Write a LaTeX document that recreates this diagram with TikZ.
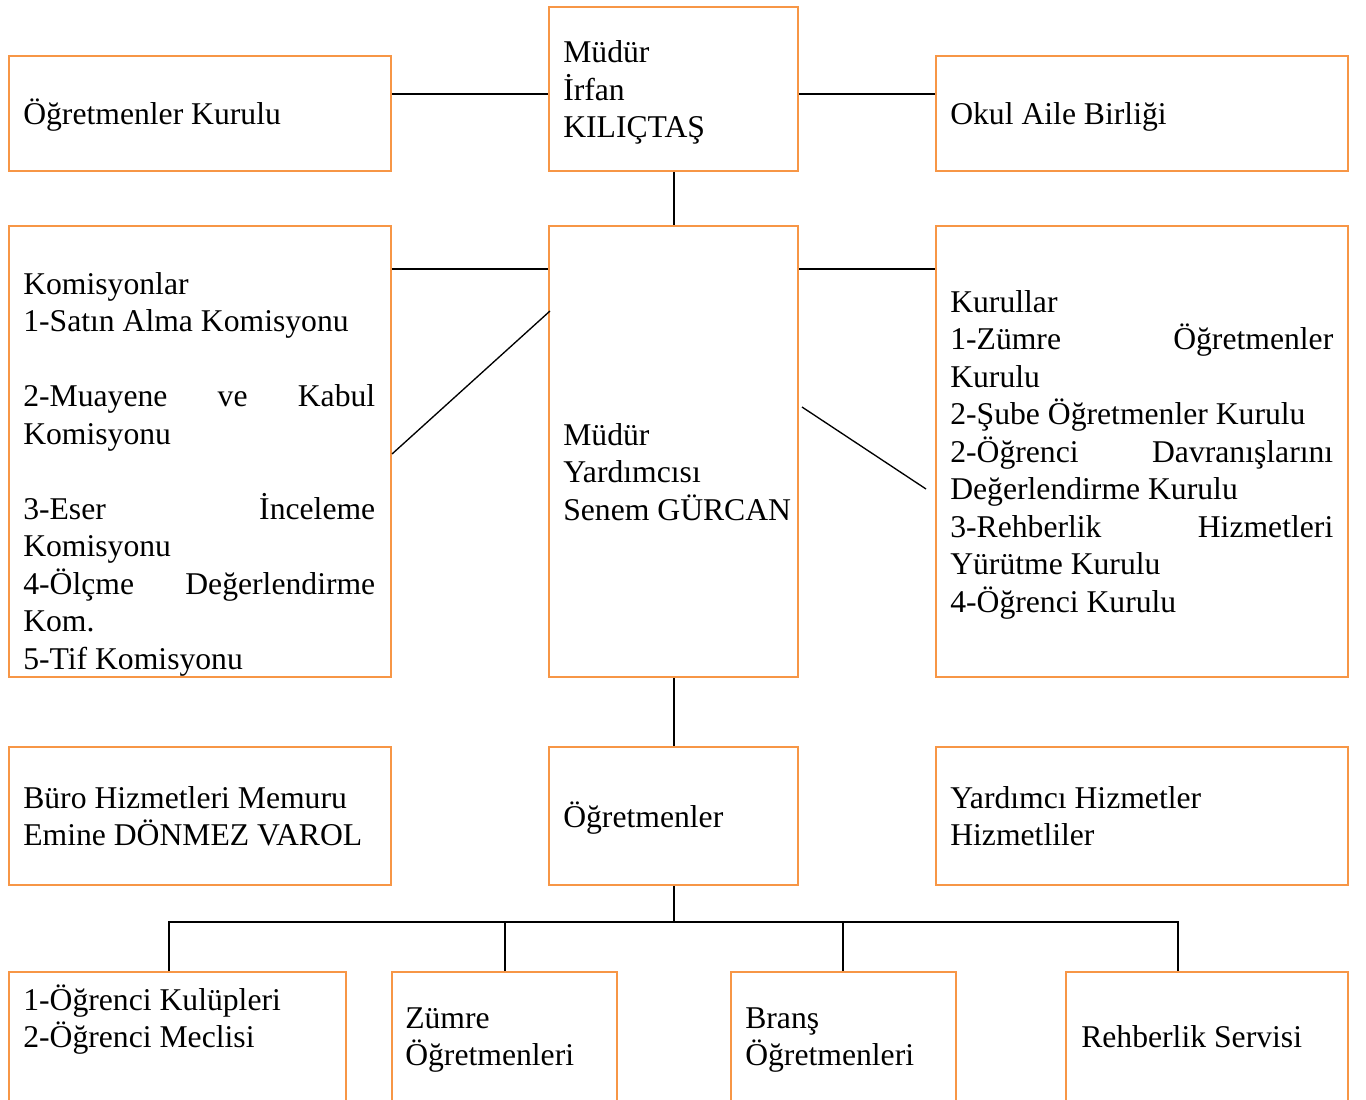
\documentclass[tikz,border=0pt]{standalone}
\usepackage{fontspec}
\setmainfont{Liberation Serif}
\definecolor{turuncu}{RGB}{247,150,70}
\newcommand{\metin}{\fontsize{23.75pt}{28.125pt}\selectfont}
\newcommand{\yasla}[1]{\makebox[\hsize][s]{#1}}

\tikzset{
	kutu/.style 2 args={draw=turuncu,line width=1.5pt,anchor=north west,inner sep=0pt,minimum width=#1*0.75pt,minimum height=#2*0.75pt},
	yazi/.style={anchor=base west,inner sep=0pt,align=flush left,text width=383*0.75pt,font=\metin},
	cizgi/.style={line width=1.5pt},
	ince/.style={line width=1pt}
}

\begin{document}
\begin{tikzpicture}[x=0.75pt,y=-0.75pt]
	\path[use as bounding box,clip] (0,0) rectangle (1366,1099);

	% ust sira
	\node[kutu={382}{115}] (ogk) at (8,55) {};
	\node[kutu={249}{164}] (mudur) at (548,6) {};
	\node[kutu={412}{115}] (oab) at (935,55) {};
	\node[yazi] (ogkYazi) at (23,124) {Öğretmenler Kurulu};
	\node[yazi] (mudurYazi) at (563,63) {Müdür\\İrfan\\KILIÇTAŞ};
	\node[yazi] (oabYazi) at (950,124) {Okul Aile Birliği};

	% orta sira
	\node[kutu={382}{451}] (kom) at (8,225) {};
	\node[kutu={249}{451}] (mudyrd) at (548,225) {};
	\node[kutu={412}{451}] (kurul) at (935,225) {};
	\node[yazi,text width=352*0.75pt] (komYazi) at (23,294) {Komisyonlar\\1-Satın Alma Komisyonu\\ \mbox{}\\
		\yasla{2-Muayene ve Kabul}\\Komisyonu\\ \mbox{}\\
		\yasla{3-Eser İnceleme}\\Komisyonu\\
		\yasla{4-Ölçme Değerlendirme}\\Kom.\\5-Tif Komisyonu};
	\node[yazi] (mudyrdYazi) at (563,445) {Müdür\\Yardımcısı\\Senem GÜRCAN};
	\node[yazi,text width=383*0.75pt] (kurulYazi) at (950,312) {Kurullar\\
		\yasla{1-Zümre Öğretmenler}\\Kurulu\\2-Şube Öğretmenler Kurulu\\
		\yasla{2-Öğrenci Davranışlarını}\\Değerlendirme Kurulu\\
		\yasla{3-Rehberlik Hizmetleri}\\Yürütme Kurulu\\4-Öğrenci Kurulu};

	% alt sira
	\node[kutu={382}{138}] (buro) at (8,746) {};
	\node[kutu={249}{138}] (ogr) at (548,746) {};
	\node[kutu={412}{138}] (yrd) at (935,746) {};
	\node[yazi] (buroYazi) at (23,808) {Büro Hizmetleri Memuru\\Emine DÖNMEZ VAROL};
	\node[yazi] (ogrYazi) at (563,827) {Öğretmenler};
	\node[yazi] (yrdYazi) at (950,808) {Yardımcı Hizmetler\\Hizmetliler};

	% en alt
	\node[kutu={337}{160}] (kulup) at (8,971) {};
	\node[kutu={225}{160}] (zumre) at (391,971) {};
	\node[kutu={225}{160}] (brans) at (730,971) {};
	\node[kutu={282}{160}] (rehber) at (1065,971) {};
	\node[yazi] (kulupYazi) at (23,1010) {1-Öğrenci Kulüpleri\\2-Öğrenci Meclisi};
	\node[yazi] (zumreYazi) at (405,1028) {Zümre\\Öğretmenleri};
	\node[yazi] (bransYazi) at (745,1028) {Branş\\Öğretmenleri};
	\node[yazi] (rehberYazi) at (1081,1047) {Rehberlik Servisi};

	% baglantilar
	\coordinate (solUc) at (550,311);
	\coordinate (sagBas) at (802,407);
	\coordinate (sagUc) at (926,489);
	\draw[cizgi] (ogk.east |- 0,94) -- (mudur.west |- 0,94);
	\draw[cizgi] (mudur.east |- 0,94) -- (oab.west |- 0,94);
	\draw[cizgi] (mudur.south) -- (mudyrd.north);
	\draw[cizgi] (kom.east |- 0,269) -- (mudyrd.west |- 0,269);
	\draw[cizgi] (mudyrd.east |- 0,269) -- (kurul.west |- 0,269);
	\draw[ince] (kom.east |- 0,454) -- (solUc);
	\draw[ince] (sagBas) -- (sagUc);
	\draw[cizgi] (mudyrd.south) -- (ogr.north);
	\draw[cizgi] (ogr.south) -- (ogr.south |- 0,922);
	\draw[cizgi] (kulup.north -| 169,0) -- ++(0,-49) -| (rehber.north -| 1178,0);
	\draw[cizgi] (zumre.north -| 505,0) -- ++(0,-49);
	\draw[cizgi] (brans.north -| 843,0) -- ++(0,-49);
\end{tikzpicture}
\end{document}
